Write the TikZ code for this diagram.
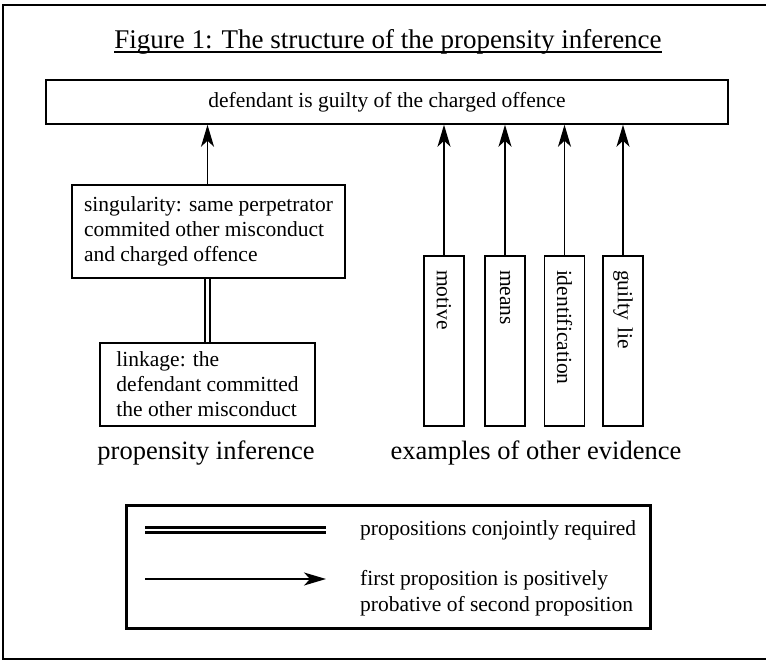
\documentclass[tikz,border=0pt]{standalone}
\usepackage{fontspec}
\setmainfont{Liberation Serif}
\usepackage{tikz}
\usetikzlibrary{arrows.meta,positioning}
\tikzstyle{every node}=[inner sep=0pt]
\tikzset{
    heading/.style={
                font=\fontsize{27}{32}\selectfont
            },
        claim/.style={
                draw=black,
                line width=1.5pt,
                align=left,
                font=\fontsize{21.5}{25}\selectfont
            },
        evidence/.style={
                draw=black,
                line width=1.5pt,
                rotate=-90,
                minimum height=40pt,
                text width=142pt,
                inner xsep=14pt,
                align=left,
                font=\fontsize{21.5}{25}\selectfont
            },
        keytext/.style={
                anchor=west,
                align=left,
                font=\fontsize{21.5}{26}\selectfont
            },
        probative/.style={-{Stealth[length=22pt,width=13pt,inset=6pt]}, line width=1.4pt},
        conjoint/.style={double=white, double distance=2.5pt, line width=2.6pt},
}

\begin{document}
\begin{tikzpicture}[x=1pt,y=-1pt]
  \useasboundingbox (0,0) rectangle (766,661);
  \draw[line width=1.5pt] (780,5) -- (3,5) -- (3,659) -- (780,659);
  % Title
  \node[heading,anchor=base] (title) at (388,49) {Figure 1: The structure of the propensity inference};
  \draw[line width=1.2pt] ([yshift=-3pt]title.base west) -- ([yshift=-3pt]title.base east);
  % Conclusion
  \node[claim,minimum width=682pt,minimum height=44pt] (guilty) at (387,102) {defendant is guilty of the charged offence};
  % Propensity inference
  \node[claim,minimum width=273pt,minimum height=93pt] (singular) at (208.5,231.5)
    {singularity: same perpetrator\\commited other misconduct\\and charged offence};
  \node[claim,minimum width=215pt,minimum height=83pt] (linkage) at (207.5,384.5)
    {linkage: the\\defendant committed\\the other misconduct};
  \draw[probative] (linkage.north |- singular.north) -- (linkage.north |- guilty.south);
  \draw[conjoint] (linkage.north) -- (linkage.north |- singular.south);
  \node[heading,font=\fontsize{26.5}{30}\selectfont] (proplabel) at (206,453) {propensity inference};
  % Other evidence
  \node[evidence] (motive) at (444,341) {motive};
  \node[evidence] (means) at (505,341) {means};
  \node[evidence] (ident) at (564.5,341) {identification};
  \node[evidence] (lie) at (623,341) {guilty lie};
  \draw[probative] (motive.west) -- (motive.west |- guilty.south);
  \draw[probative] (means.west) -- (means.west |- guilty.south);
  \draw[probative] (ident.west) -- (ident.west |- guilty.south);
  \draw[probative] (lie.west) -- (lie.west |- guilty.south);
  \node[heading,font=\fontsize{26.5}{30}\selectfont] (otherlabel) at (536,453) {examples of other evidence};
  % Key
  \node[draw=black,line width=3pt,minimum width=524pt,minimum height=123pt] (key) at (388,566.5) {};
  \coordinate (conjA) at (145,530);
  \coordinate (conjB) at (326,530);
  \coordinate (probA) at (145,579);
  \coordinate (probB) at (326,579);
  \draw[conjoint] (conjA) -- (conjB);
  \draw[probative] (probA) -- (probB);
  \node[keytext] (conjtext) at (360,530) {propositions conjointly required};
  \node[keytext] (probtext) at (360,593) {first proposition is positively\\probative of second proposition};
\end{tikzpicture}
\end{document}
